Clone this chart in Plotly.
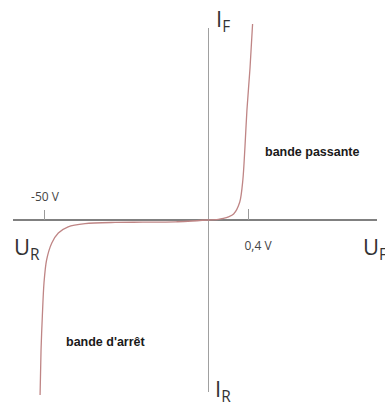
import plotly.graph_objects as go
from plotly.subplots import make_subplots

# Forward characteristic (voltage in V, current in mA)
u_forward = [0, 0.10, 0.15, 0.20, 0.25, 0.31, 0.34, 0.36, 0.38, 0.41, 0.435]
i_forward = [0, 0.3, 0.8, 1.6, 3, 9, 20, 36, 55, 76, 98]

# Reverse characteristic (voltage in V, current in µA)
u_reverse = [0, -10, -20, -28.5, -37.7, -42.9, -45.9, -47.9, -49.5, -50.3, -50.8, -51.2, -51.5]
i_reverse = [0, -0.9, -1.1, -1.2, -1.8, -3.4, -6.5, -11.5, -20, -31.5, -48, -65, -87.5]

# Marked voltages on the horizontal axis
reverse_tick = [-50]
reverse_tick_text = ["-50 V"]
forward_tick = [0.4]
forward_tick_text = ["0,4 V"]

W, H = 385, 411
curve_color = "#bf8585"
axis_color = "#808080"
label_color = "#333333"

fig = make_subplots(rows=1, cols=2, horizontal_spacing=0)

fig.add_trace(go.Scatter(x=u_reverse, y=i_reverse, mode="lines",
                         line=dict(color=curve_color, width=1.3, shape="spline", smoothing=0.8),
                         hoverinfo="skip", showlegend=False), row=1, col=1)
fig.add_trace(go.Scatter(x=u_forward, y=i_forward, mode="lines",
                         line=dict(color=curve_color, width=1.3, shape="spline", smoothing=0.8),
                         hoverinfo="skip", showlegend=False), row=1, col=2)

y0_frac = 191 / H  # height of the voltage axis above the bottom edge
y_range = [-95.5, 110]

fig.update_layout(
    width=W, height=H,
    margin=dict(l=0, r=0, t=0, b=0),
    paper_bgcolor="white", plot_bgcolor="white",
    font=dict(family="Open Sans", color=label_color),
    xaxis=dict(domain=[13 / W, 208 / W], range=[-59.8, 0], showgrid=False, zeroline=False,
               showline=False, anchor="free", position=y0_frac, side="top",
               ticks="outside", ticklen=10, tickwidth=1, tickcolor="#9a9a9a",
               tickvals=reverse_tick, ticktext=reverse_tick_text,
               tickfont=dict(size=12, color="#444"), ticklabelstandoff=4),
    xaxis2=dict(domain=[208 / W, 377 / W], range=[0, 1.649], showgrid=False, zeroline=False,
                showline=False, anchor="free", position=y0_frac, side="bottom",
                ticks="inside", ticklen=11, tickwidth=1, tickcolor="#9a9a9a",
                tickvals=forward_tick, ticktext=forward_tick_text,
                tickfont=dict(size=12, color="#444"), ticklabelshift=9, ticklabelstandoff=17),
    yaxis=dict(domain=[0, 1], range=y_range, showgrid=False, showticklabels=False,
               zeroline=True, zerolinecolor=axis_color, zerolinewidth=1.5),
    yaxis2=dict(domain=[0, 1], range=y_range, showgrid=False, showticklabels=False,
                zeroline=True, zerolinecolor=axis_color, zerolinewidth=1.5),
)

# Current axis
fig.add_shape(type="line", xref="x2", yref="paper", x0=0, x1=0,
              y0=1 - 392 / H, y1=1 - 28 / H,
              line=dict(color=axis_color, width=1.5), layer="below")


def px(x, y):
    return x / W, 1 - y / H


def axis_label(main, sub, x, y):
    ax, ay = px(x, y)
    fig.add_annotation(xref="paper", yref="paper", x=ax, y=ay, xanchor="left", yanchor="middle",
                       text=f"{main}<sub>{sub}</sub>", showarrow=False,
                       font=dict(family="Open Sans", size=22, color=label_color))


axis_label("U", "R", 12, 248)
axis_label("U", "F", 361, 248)
axis_label("I", "F", 214, 20)
axis_label("I", "R", 213, 390)

for text, x, y in [("bande passante", 312, 152), ("bande d'arrêt", 106, 342)]:
    ax, ay = px(x, y)
    fig.add_annotation(xref="paper", yref="paper", x=ax, y=ay, xanchor="center", yanchor="middle",
                       text=f"<b>{text}</b>", showarrow=False,
                       font=dict(family="Liberation Sans", size=12.5, color="#1a1a1a"))

fig.write_html("out.html")
